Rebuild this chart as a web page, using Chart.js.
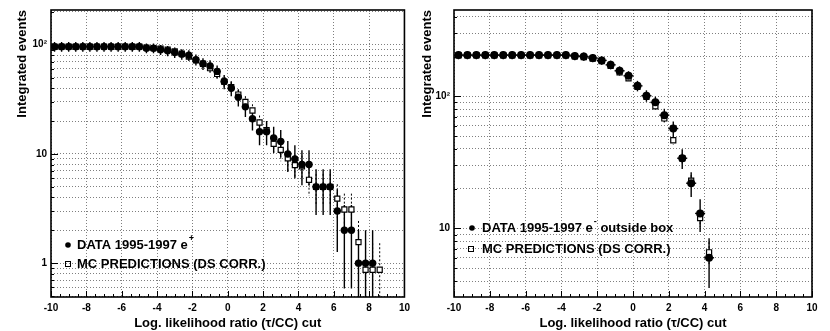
<!DOCTYPE html>
<html><head><meta charset="utf-8">
<script src="https://cdn.jsdelivr.net/npm/chart.js@4.4.1/dist/chart.umd.min.js"></script>
<style>
html,body{margin:0;padding:0;background:#fff;}
#wrap{position:relative;width:830px;height:331px;overflow:hidden;background:#fff;}
canvas{position:absolute;top:0;}
</style></head><body>
<div id="wrap">
<canvas id="left" width="415" height="331" style="left:0"></canvas>
<canvas id="right" width="415" height="331" style="left:415px"></canvas>
</div>
<script>
// ---------- DATA ----------
const X_TICKS = [-10, -8, -6, -4, -2, 0, 2, 4, 6, 8, 10];

// Left panel: DATA 1995-1997 e+
const leftX = [-9.8,-9.4,-9.0,-8.6,-8.2,-7.8,-7.4,-7.0,-6.6,-6.2,-5.8,-5.4,-5.0,-4.6,-4.2,-3.8,-3.4,-3.0,-2.6,-2.2,-1.8,-1.4,-1.0,-0.6,-0.2,0.2,0.6,1.0,1.4,1.8,2.2,2.6,3.0,3.4,3.8,4.2,4.6,5.0,5.4,5.8,6.2,6.6,7.0,7.4,7.8,8.2];
const leftData = [96,96,96,96,96,96,96,96,96,96,96,96,96,93,93,90,88,85,82,80,73,67,64,57,46,40,33,27,21,16,16,14,13,10,9,8,8,5,5,5,3,2,2,1,1,1];
const leftMcX = [-9.8,-9.4,-9.0,-8.6,-8.2,-7.8,-7.4,-7.0,-6.6,-6.2,-5.8,-5.4,-5.0,-4.6,-4.2,-3.8,-3.4,-3.0,-2.6,-2.2,-1.8,-1.4,-1.0,-0.6,-0.2,0.2,0.6,1.0,1.4,1.8,2.2,2.6,3.0,3.4,3.8,4.2,4.6,5.0,5.4,5.8,6.2,6.6,7.0,7.4,7.8,8.2,8.6];
const leftMc = [96,96,96,96,96,96,96,96,96,96,96,96,96,94,93,92,90,87,83,78,72,67,61,54,46,41,35,30,25,19.4,16.5,12.4,10.9,9.1,7.9,7.7,5.8,5.0,5.0,5.0,3.9,3.1,3.1,1.56,0.87,0.87,0.87];
const LEFT_Y_TICKS = [1, 10, 100];
const LEFT_Y_LABELS = ['1', '10', '10\u00B2'];
const LEFT_Y_GRID = [0.5,0.6,0.7,0.8,0.9,1,2,3,4,5,6,7,8,9,10,20,30,40,50,60,70,80,90,100,200];

// Right panel: DATA 1995-1997 e- outside box
const rightX = [-9.75,-9.25,-8.75,-8.25,-7.75,-7.25,-6.75,-6.25,-5.75,-5.25,-4.75,-4.25,-3.75,-3.25,-2.75,-2.25,-1.75,-1.25,-0.75,-0.25,0.25,0.75,1.25,1.75,2.25,2.75,3.25,3.75,4.25];
const rightData = [205,205,205,205,205,205,205,205,205,205,205,205,205,202,200,195,187,173,156,143,120,101,90,72,57,34,22,13,6];
const rightMc = [204,204,204,204,204,204,204,204,204,204,204,204,204,201,198,193,185,170,152,137,118,99,84,68,46.5,34,23,12,6.6];
const RIGHT_Y_TICKS = [10, 100];
const RIGHT_Y_LABELS = ['10', '10\u00B2'];
const RIGHT_Y_GRID = [4,5,6,7,8,9,10,20,30,40,50,60,70,80,90,100,200,300,400];

// ---------- PLUGINS ----------
const FONT = '"Liberation Sans", Arial, Helvetica, sans-serif';

const errorBars = {
  id: 'errorBars',
  beforeDatasetsDraw(chart) {
    const {ctx, chartArea: a, scales: {x, y}} = chart;
    ctx.save();
    ctx.beginPath(); ctx.rect(a.left, a.top, a.right - a.left, a.bottom - a.top); ctx.clip();
    chart.data.datasets.forEach(ds => {
      if (!ds.err) return;
      ctx.strokeStyle = '#000';
      ctx.lineWidth = ds.errWidth;
      ctx.setLineDash(ds.errDash);
      ds.data.forEach((p, j) => {
        const e = ds.err[j];
        const px = x.getPixelForValue(p.x);
        const yTop = y.getPixelForValue(p.y + e);
        const lo = p.y - e;
        const yBot = lo > 0 ? y.getPixelForValue(lo) : a.bottom + 2;
        ctx.beginPath(); ctx.moveTo(px, yTop); ctx.lineTo(px, yBot); ctx.stroke();
        if (ds.xerr) {
          const py = y.getPixelForValue(p.y);
          ctx.beginPath();
          ctx.moveTo(x.getPixelForValue(p.x - ds.xerr), py);
          ctx.lineTo(x.getPixelForValue(p.x + ds.xerr), py);
          ctx.stroke();
        }
      });
    });
    ctx.restore();
  }
};

const frame = {
  id: 'frame',
  afterDraw(chart, args, opts) {
    const {ctx, chartArea: a, scales: {x, y}} = chart;
    ctx.save();
    ctx.strokeStyle = '#000';
    ctx.lineWidth = 1;
    for (let v = -10; v <= 10.001; v += 0.5) {
      const px = Math.round(x.getPixelForValue(v)) + 0.5;
      const len = (Math.abs(v % 2) < 1e-6) ? 6 : 3;
      ctx.beginPath(); ctx.moveTo(px, a.bottom); ctx.lineTo(px, a.bottom - len); ctx.stroke();
    }
    opts.yGrid.forEach(v => {
      const py = Math.round(y.getPixelForValue(v)) + 0.5;
      const len = opts.yTicks.includes(v) ? 7 : 3;
      ctx.beginPath(); ctx.moveTo(a.left, py); ctx.lineTo(a.left + len, py); ctx.stroke();
    });
    ctx.lineWidth = 1.6;
    ctx.strokeRect(a.left, a.top, a.right - a.left, a.bottom - a.top);
    ctx.restore();
  }
};

const customLegend = {
  id: 'customLegend',
  afterDraw(chart, args, opts) {
    const ctx = chart.ctx;
    ctx.save();
    const font = 'bold 13px ' + FONT;
    const supFont = 'bold 9px ' + FONT;
    opts.items.forEach(it => {
      ctx.fillStyle = '#000'; ctx.strokeStyle = '#000';
      if (it.marker === 'circle') {
        ctx.beginPath(); ctx.arc(it.mx, it.y, 2.8, 0, Math.PI * 2); ctx.fill();
      } else {
        ctx.lineWidth = 1; ctx.strokeRect(it.mx - 2.5, it.y - 2.5, 5, 5);
      }
      ctx.font = font; ctx.textBaseline = 'middle'; ctx.textAlign = 'left';
      let xx = it.tx;
      ctx.fillText(it.text, xx, it.y);
      xx += ctx.measureText(it.text).width;
      if (it.sup) {
        ctx.font = supFont;
        ctx.fillText(it.sup, xx + 1, it.y - 6);
        xx += ctx.measureText(it.sup).width + 1;
      }
      if (it.after) { ctx.font = font; ctx.fillText(it.after, xx, it.y); }
    });
    ctx.restore();
  }
};

// ---------- CHART BUILDER ----------
function makeChart(id, o) {
  const pts = (xs, ys) => xs.map((v, i) => ({x: v, y: ys[i]}));
  const tickFont = {family: FONT, size: 10, weight: 'bold'};
  const titleFont = {family: FONT, size: 13, weight: 'bold'};
  const gridCol = 'rgba(0,0,0,0.5)';
  return new Chart(document.getElementById(id), {
    type: 'scatter',
    data: {
      datasets: [
        {
          label: 'DATA', data: pts(o.x, o.data),
          err: o.data.map(v => Math.sqrt(v)), xerr: o.xerr,
          errWidth: 1.4, errDash: [],
          pointStyle: 'circle', pointRadius: o.dotR, pointHoverRadius: o.dotR,
          backgroundColor: '#000', borderColor: '#000', borderWidth: 0
        },
        {
          label: 'MC', data: pts(o.mcX, o.mc),
          err: o.mc.map(v => o.mcErr * Math.sqrt(v)),
          errWidth: 1, errDash: [2, 2],
          pointStyle: 'rect', pointRadius: 3.6, pointHoverRadius: 3.6,
          backgroundColor: '#fff', borderColor: '#000', borderWidth: 1.2
        }
      ]
    },
    options: {
      responsive: false, animation: false, devicePixelRatio: 1,
      layout: {padding: {top: 8, right: o.padRight, left: 0, bottom: 0}},
      plugins: {
        legend: {display: false}, tooltip: {enabled: false},
        customLegend: {items: o.legend},
        frame: {yGrid: o.yGrid, yTicks: o.yTicks}
      },
      scales: {
        x: {
          type: 'linear', min: -10, max: 10,
          afterBuildTicks: s => { s.ticks = X_TICKS.map(v => ({value: v})); },
          afterFit: s => { s.height = 34; },
          grid: {color: gridCol, lineWidth: 1, drawTicks: false},
          border: {display: false, dash: [1, 2]},
          ticks: {padding: 5, color: '#000', font: tickFont, maxRotation: 0, autoSkip: false},
          title: {display: true, text: 'Log. likelihood ratio (\u03C4/CC) cut', color: '#000', font: titleFont, padding: {top: 0, bottom: 0}}
        },
        y: {
          type: 'logarithmic', min: o.ymin, max: o.ymax,
          afterBuildTicks: s => { s.ticks = o.yGrid.map(v => ({value: v})); },
          afterFit: s => { s.width = o.yWidth; },
          grid: {color: gridCol, lineWidth: 1, drawTicks: false},
          border: {display: false, dash: [1, 2]},
          ticks: {
            padding: 4, color: '#000', font: tickFont, autoSkip: false,
            callback: v => { const i = o.yTicks.indexOf(v); return i >= 0 ? o.yLabels[i] : ''; }
          },
          title: {display: true, text: 'Integrated events', align: 'end', color: '#000', font: titleFont, padding: {top: o.yTitlePad, bottom: 0}}
        }
      }
    },
    plugins: [errorBars, frame, customLegend]
  });
}

makeChart('left', {
  x: leftX, data: leftData, mcX: leftMcX, mc: leftMc,
  xerr: 0.2, dotR: 3.7, mcErr: 0.7,
  ymin: 0.49, ymax: 208,
  yTicks: LEFT_Y_TICKS, yLabels: LEFT_Y_LABELS, yGrid: LEFT_Y_GRID,
  yWidth: 51, padRight: 9, yTitlePad: 15,
  legend: [
    {marker: 'circle', mx: 68, tx: 77, y: 245, text: 'DATA 1995-1997 e', sup: '+'},
    {marker: 'square', mx: 68, tx: 77, y: 264, text: 'MC PREDICTIONS (DS CORR.)'}
  ]
});

makeChart('right', {
  x: rightX, data: rightData, mcX: rightX, mc: rightMc,
  xerr: 0.28, dotR: 4, mcErr: 0.5,
  ymin: 3.03, ymax: 450,
  yTicks: RIGHT_Y_TICKS, yLabels: RIGHT_Y_LABELS, yGrid: RIGHT_Y_GRID,
  yWidth: 39, padRight: 18, yTitlePad: 5,
  legend: [
    {marker: 'circle', mx: 57, tx: 67, y: 228, text: 'DATA 1995-1997 e', sup: '-', after: ' outside box'},
    {marker: 'square', mx: 56, tx: 67, y: 249, text: 'MC PREDICTIONS (DS CORR.)'}
  ]
});
</script>
</body></html>
